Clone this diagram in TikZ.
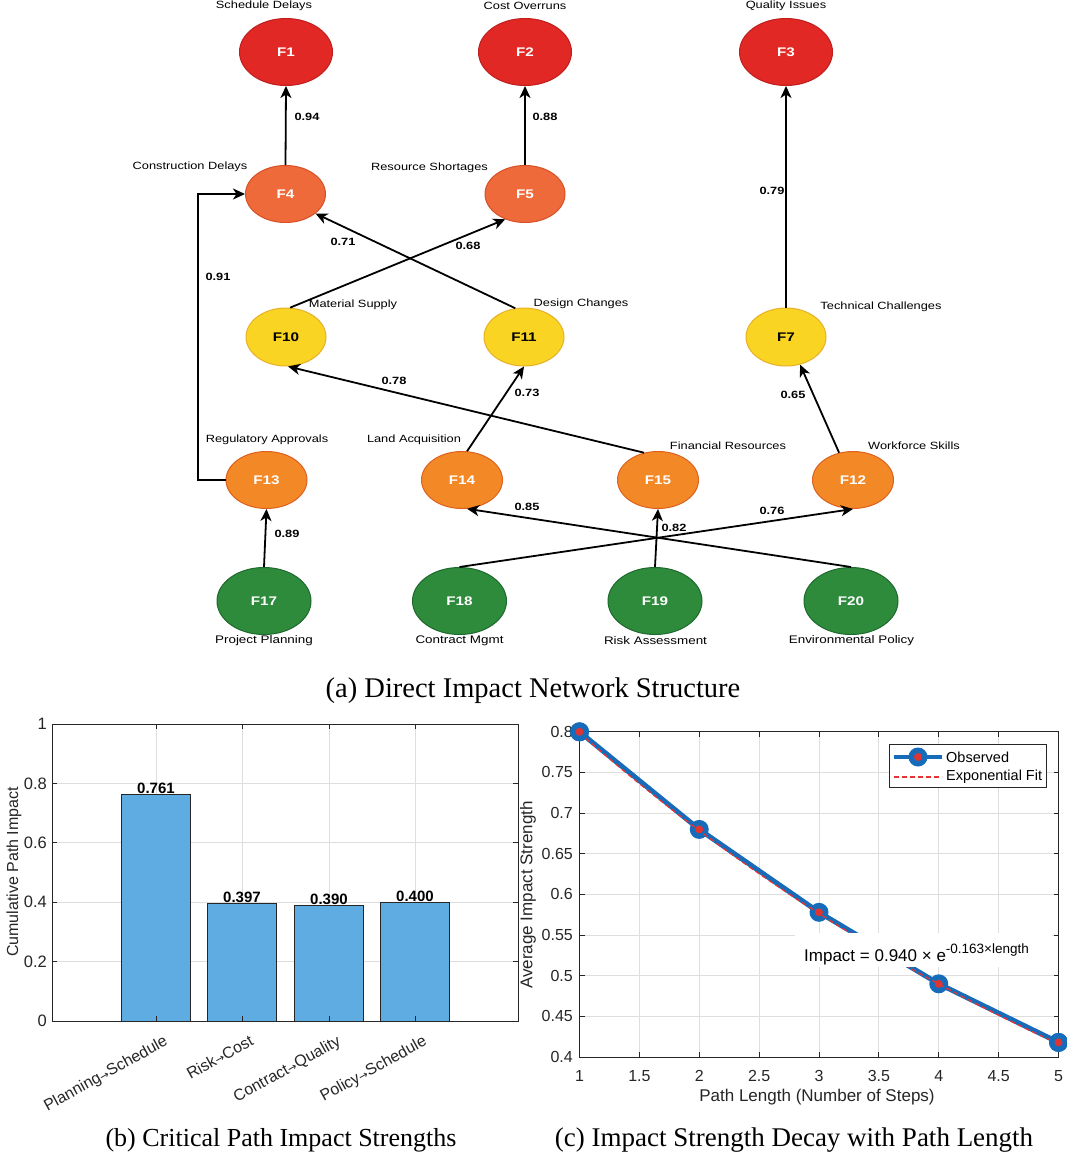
\documentclass[tikz,border=0pt]{standalone}
\usepackage{fontspec}
\setmainfont{Liberation Serif}
\setsansfont{Liberation Sans}
\newfontfamily\netfont[FakeStretch=1.22]{Liberation Sans}
\newfontfamily\arrfont{DejaVu Sans}
\usetikzlibrary{shapes.geometric,arrows.meta,calc}
\definecolor{cR}{RGB}{226,40,36}
\definecolor{cRb}{RGB}{190,30,30}
\definecolor{cO}{RGB}{238,106,58}
\definecolor{cOb}{RGB}{214,80,40}
\definecolor{cY}{RGB}{249,212,35}
\definecolor{cYb}{RGB}{232,176,40}
\definecolor{cM}{RGB}{242,137,38}
\definecolor{cMb}{RGB}{222,96,30}
\definecolor{cG}{RGB}{46,139,60}
\definecolor{cGb}{RGB}{30,105,45}
\definecolor{barC}{RGB}{94,172,225}
\definecolor{axC}{RGB}{38,38,38}
\definecolor{grC}{RGB}{222,222,222}
\definecolor{obsC}{RGB}{22,108,185}
\definecolor{dotC}{RGB}{222,52,52}
\definecolor{fitC}{RGB}{232,50,50}
\newcommand\myarr{{\arrfont\fontsize{11}{11}\selectfont →}}
\begin{document}
\begin{tikzpicture}[x=1pt,y=-1pt,
  fn/.style={ellipse, draw, line width=1pt, inner sep=0pt, font=\netfont\bfseries\fontsize{12.5}{13}\selectfont},
  lvR/.style={fn, fill=cR, draw=cRb, text=white, minimum width=93pt, minimum height=67pt},
  lvO/.style={fn, fill=cO, draw=cOb, text=white, minimum width=80pt, minimum height=57pt},
  lvY/.style={fn, fill=cY, draw=cYb, text=black, minimum width=80pt, minimum height=58pt},
  lvM/.style={fn, fill=cM, draw=cMb, text=white, minimum width=81pt, minimum height=57pt},
  lvG/.style={fn, fill=cG, draw=cGb, text=white, minimum width=94pt, minimum height=67pt},
  nl/.style={font=\netfont\fontsize{10.5}{12}\selectfont, inner sep=0pt},
  bl/.style={font=\netfont\fontsize{11}{12}\selectfont, inner sep=0pt},
  el/.style={font=\netfont\bfseries\fontsize{10.5}{12}\selectfont, inner sep=0pt},
  conn/.style={line width=1.8pt, -{Stealth[length=12pt,width=11pt,inset=3.5pt]}},
  gl/.style={draw=grC, line width=0.8pt},
  ax/.style={draw=axC, line width=1pt},
  tkb/.style={font=\sffamily\fontsize{16.5}{18}\selectfont, text=axC, inner sep=0pt},
  tkc/.style={font=\sffamily\fontsize{16}{18}\selectfont, text=axC, inner sep=0pt},
  xtl/.style={font=\sffamily\fontsize{16}{17}\selectfont, text=axC, inner sep=0pt},
  vl/.style={font=\sffamily\bfseries\fontsize{15}{17}\selectfont, text=black, inner sep=0pt},
  alb/.style={font=\sffamily\fontsize{16}{18}\selectfont, text=axC, inner sep=0pt},
  alc/.style={font=\sffamily\fontsize{17}{19}\selectfont, text=axC, inner sep=0pt},
  lg/.style={font=\sffamily\fontsize{14.5}{16}\selectfont, text=black, inner sep=0pt},
  captxt/.style={inner sep=0pt}
]
\useasboundingbox (0,0) rectangle (1067,1157);
\fill[white] (0,0) rectangle (1067,1157);

% ================= (a) network =================
\node[lvR] (F1) at (286,52) {F1};
\node[lvR] (F2) at (525,52) {F2};
\node[lvR] (F3) at (786,52) {F3};
\node[lvO] (F4) at (285.5,194) {F4};
\node[lvO] (F5) at (525,194) {F5};
\node[lvY] (F10) at (286,337) {F10};
\node[lvY] (F11) at (524,337) {F11};
\node[lvY] (F7) at (786,337) {F7};
\node[lvM] (F13) at (266.5,480) {F13};
\node[lvM] (F14) at (462,480) {F14};
\node[lvM] (F15) at (658,480) {F15};
\node[lvM] (F12) at (853,480) {F12};
\node[lvG] (F17) at (264,601) {F17};
\node[lvG] (F18) at (459.5,601) {F18};
\node[lvG] (F19) at (655,601) {F19};
\node[lvG] (F20) at (851,601) {F20};

\node[nl] (L1) at (264,5.5) {Schedule Delays};
\node[nl] (L2) at (525,5.5) {Cost Overruns};
\node[nl] (L3) at (786,5.5) {Quality Issues};
\node[nl] (L4) at (190,167) {Construction Delays};
\node[nl] (L5) at (429.5,168) {Resource Shortages};
\node[nl] (L10) at (353,305) {Material Supply};
\node[nl] (L11) at (581,304) {Design Changes};
\node[nl] (L7) at (881,307) {Technical Challenges};
\node[nl] (L13) at (267,440) {Regulatory Approvals};
\node[nl] (L14) at (414,440) {Land Acquisition};
\node[nl] (L15) at (728,446) {Financial Resources};
\node[nl] (L12) at (914,446) {Workforce Skills};
\node[bl] (L17) at (264,641) {Project Planning};
\node[bl] (L18) at (459.5,641) {Contract Mgmt};
\node[bl] (L19) at (655.5,641) {Risk Assessment};
\node[bl] (L20) at (851.5,641) {Environmental Policy};

\coordinate (k1) at (198,480);
\draw[conn] (F4.north) -- (F1.south);
\draw[conn] (F5.north) -- (F2.south);
\draw[conn] (F7.north) -- (F3.south);
\draw[conn] (F13.west) -- (k1) |- (F4.west);
\draw[conn] (F10.82) -- (F5.232);
\draw[conn] (F11.107) -- (F4.327);
\draw[conn] (F14.80) -- (F11.south);
\draw[conn] (F15.117) -- (F10.274);
\draw[conn] (F12.117) -- (F7.297);
\draw[conn] (F17.north) -- (F13.south);
\draw[conn] (F18.north) -- (F12.south);
\draw[conn] (F19.north) -- (F15.south);
\draw[conn] (F20.north) -- (F14.280);

\node[el] (w1) at (307,117) {0.94};
\node[el] (w2) at (545,117) {0.88};
\node[el] (w3) at (772,191) {0.79};
\node[el] (w4) at (218,277) {0.91};
\node[el] (w5) at (343,242) {0.71};
\node[el] (w6) at (468,246) {0.68};
\node[el] (w7) at (394,381) {0.78};
\node[el] (w8) at (527,393) {0.73};
\node[el] (w9) at (793,395) {0.65};
\node[el] (w10) at (287,534) {0.89};
\node[el] (w11) at (527,507) {0.85};
\node[el] (w12) at (674,528) {0.82};
\node[el] (w13) at (772,511) {0.76};

\node[captxt, font=\fontsize{28.5}{30}\selectfont] (capA) at (533,691) {(a) Direct Impact Network Structure};

% ================= (b) bar chart =================
\foreach \v in {0.2,0.4,0.6,0.8} \draw[gl] (52,{1021-297*\v}) -- (518,{1021-297*\v});
\foreach \x in {156,242,329,415} \draw[gl] (\x,724) -- (\x,1021);
\foreach \x/\v in {156/0.761,242/0.397,329/0.390,415/0.400}
  \draw[fill=barC, draw=axC, line width=1pt] (\x-34.5,1021) rectangle (\x+34.5,{1021-297*\v});
\node[vl, anchor=base] (bv1) at (156,{1020-297*0.761}) {0.761};
\node[vl, anchor=base] (bv2) at (242,{1020-297*0.397}) {0.397};
\node[vl, anchor=base] (bv3) at (329,{1020-297*0.390}) {0.390};
\node[vl, anchor=base] (bv4) at (415,{1020-297*0.400}) {0.400};
\draw[ax] (52,724) rectangle (518,1021);
\foreach \v in {0.2,0.4,0.6,0.8} {
  \draw[ax] (52,{1021-297*\v}) -- ++(5,0);
  \draw[ax] (518,{1021-297*\v}) -- ++(-5,0);
}
\foreach \x in {156,242,329,415} {
  \draw[ax] (\x,1021) -- ++(0,-5);
  \draw[ax] (\x,724) -- ++(0,5);
}
\foreach \t [count=\i from 0] in {0,0.2,0.4,0.6,0.8,1}
  \node[tkb, anchor=east] (by\i) at (47,{1021-59.4*\i}) {\t};
\node[xtl, anchor=north east, rotate=29] (bx1) at (163,1034) {Planning\myarr Schedule};
\node[xtl, anchor=north east, rotate=29] (bx2) at (249,1034) {Risk\myarr Cost};
\node[xtl, anchor=north east, rotate=29] (bx3) at (336,1034) {Contract\myarr Quality};
\node[xtl, anchor=north east, rotate=29] (bx4) at (422,1034) {Policy\myarr Schedule};
\node[alb, rotate=90] (bylab) at (14,872) {Cumulative Path Impact};
\node[captxt, font=\fontsize{26}{28}\selectfont] (capB) at (281,1140) {(b) Critical Path Impact Strengths};

% ================= (c) line chart =================
\foreach \i in {0,...,8} \draw[gl] ({579.5+59.875*\i},731.8) -- ({579.5+59.875*\i},1057);
\foreach \i in {0,...,8} \draw[gl] (579.5,{1057-40.65*\i}) -- (1058.5,{1057-40.65*\i});
\coordinate (o1) at (579.5,731.8);
\coordinate (o2) at (699.25,829.4);
\coordinate (o3) at (819,912.3);
\coordinate (o4) at (938.75,983.8);
\coordinate (o5) at (1058.5,1042.4);
\draw[obsC, line width=5pt, line join=round] (o1) -- (o2) -- (o3) -- (o4) -- (o5);
\foreach \k in {1,...,5} {
  \fill[obsC] (o\k) circle[radius=9.5];
  \fill[dotC] (o\k) circle[radius=4];
}
\draw[fitC, line width=1.3pt, dash pattern=on 5pt off 3pt] plot[domain=1:5, samples=60, smooth] ({579.5+119.75*(\x-1)},{1057-813*(0.94*exp(-0.163*\x)-0.4)});
\fill[white] (795,933) rectangle (1052,967);
\node[font=\sffamily\fontsize{17}{19}\selectfont, text=black, inner sep=0pt, anchor=base west] (ann) at (804,961) {Impact = 0.940 × e\raisebox{8pt}{\fontsize{13.5}{14}\selectfont -0.163×length}};
\draw[ax] (579.5,731.8) rectangle (1058.5,1057);
\foreach \i in {0,...,8} {
  \draw[ax] ({579.5+59.875*\i},1057) -- ++(0,-5);
  \draw[ax] ({579.5+59.875*\i},731.8) -- ++(0,5);
  \draw[ax] (579.5,{1057-40.65*\i}) -- ++(5,0);
  \draw[ax] (1058.5,{1057-40.65*\i}) -- ++(-5,0);
}
\foreach \t [count=\i from 0] in {1,1.5,2,2.5,3,3.5,4,4.5,5}
  \node[tkc] (cx\i) at ({579.5+59.875*\i},1076) {\t};
\foreach \t [count=\i from 0] in {0.4,0.45,0.5,0.55,0.6,0.65,0.7,0.75,0.8}
  \node[tkc, anchor=east] (cy\i) at (573,{1057-40.65*\i}) {\t};
\fill[obsC] (o1) circle[radius=9.5];
\fill[dotC] (o1) circle[radius=4];
\fill[obsC] (o5) circle[radius=9.5];
\fill[dotC] (o5) circle[radius=4];
\node[alc, rotate=90] (cylab) at (528,895) {Average Impact Strength};
\node[alc] (cxlab) at (817,1097) {Path Length (Number of Steps)};
% legend
\draw[fill=white, draw=axC, line width=0.8pt] (889,744) rectangle (1046,787);
\coordinate (lg1a) at (894,757);
\coordinate (lg1b) at (942,757);
\coordinate (lg1m) at (918,757);
\coordinate (lg2a) at (894,777);
\coordinate (lg2b) at (942,777);
\draw[obsC, line width=4pt] (lg1a) -- (lg1b);
\fill[obsC] (lg1m) circle[radius=9.5];
\fill[dotC] (lg1m) circle[radius=4];
\draw[fitC, line width=1.3pt, dash pattern=on 5pt off 3pt] (lg2a) -- (lg2b);
\node[lg, anchor=west] (lgt1) at (946,757) {Observed};
\node[lg, anchor=west] (lgt2) at (946,777) {Exponential Fit};
\node[captxt, font=\fontsize{27}{29}\selectfont] (capC) at (794,1140) {(c) Impact Strength Decay with Path Length};
\end{tikzpicture}
\end{document}
